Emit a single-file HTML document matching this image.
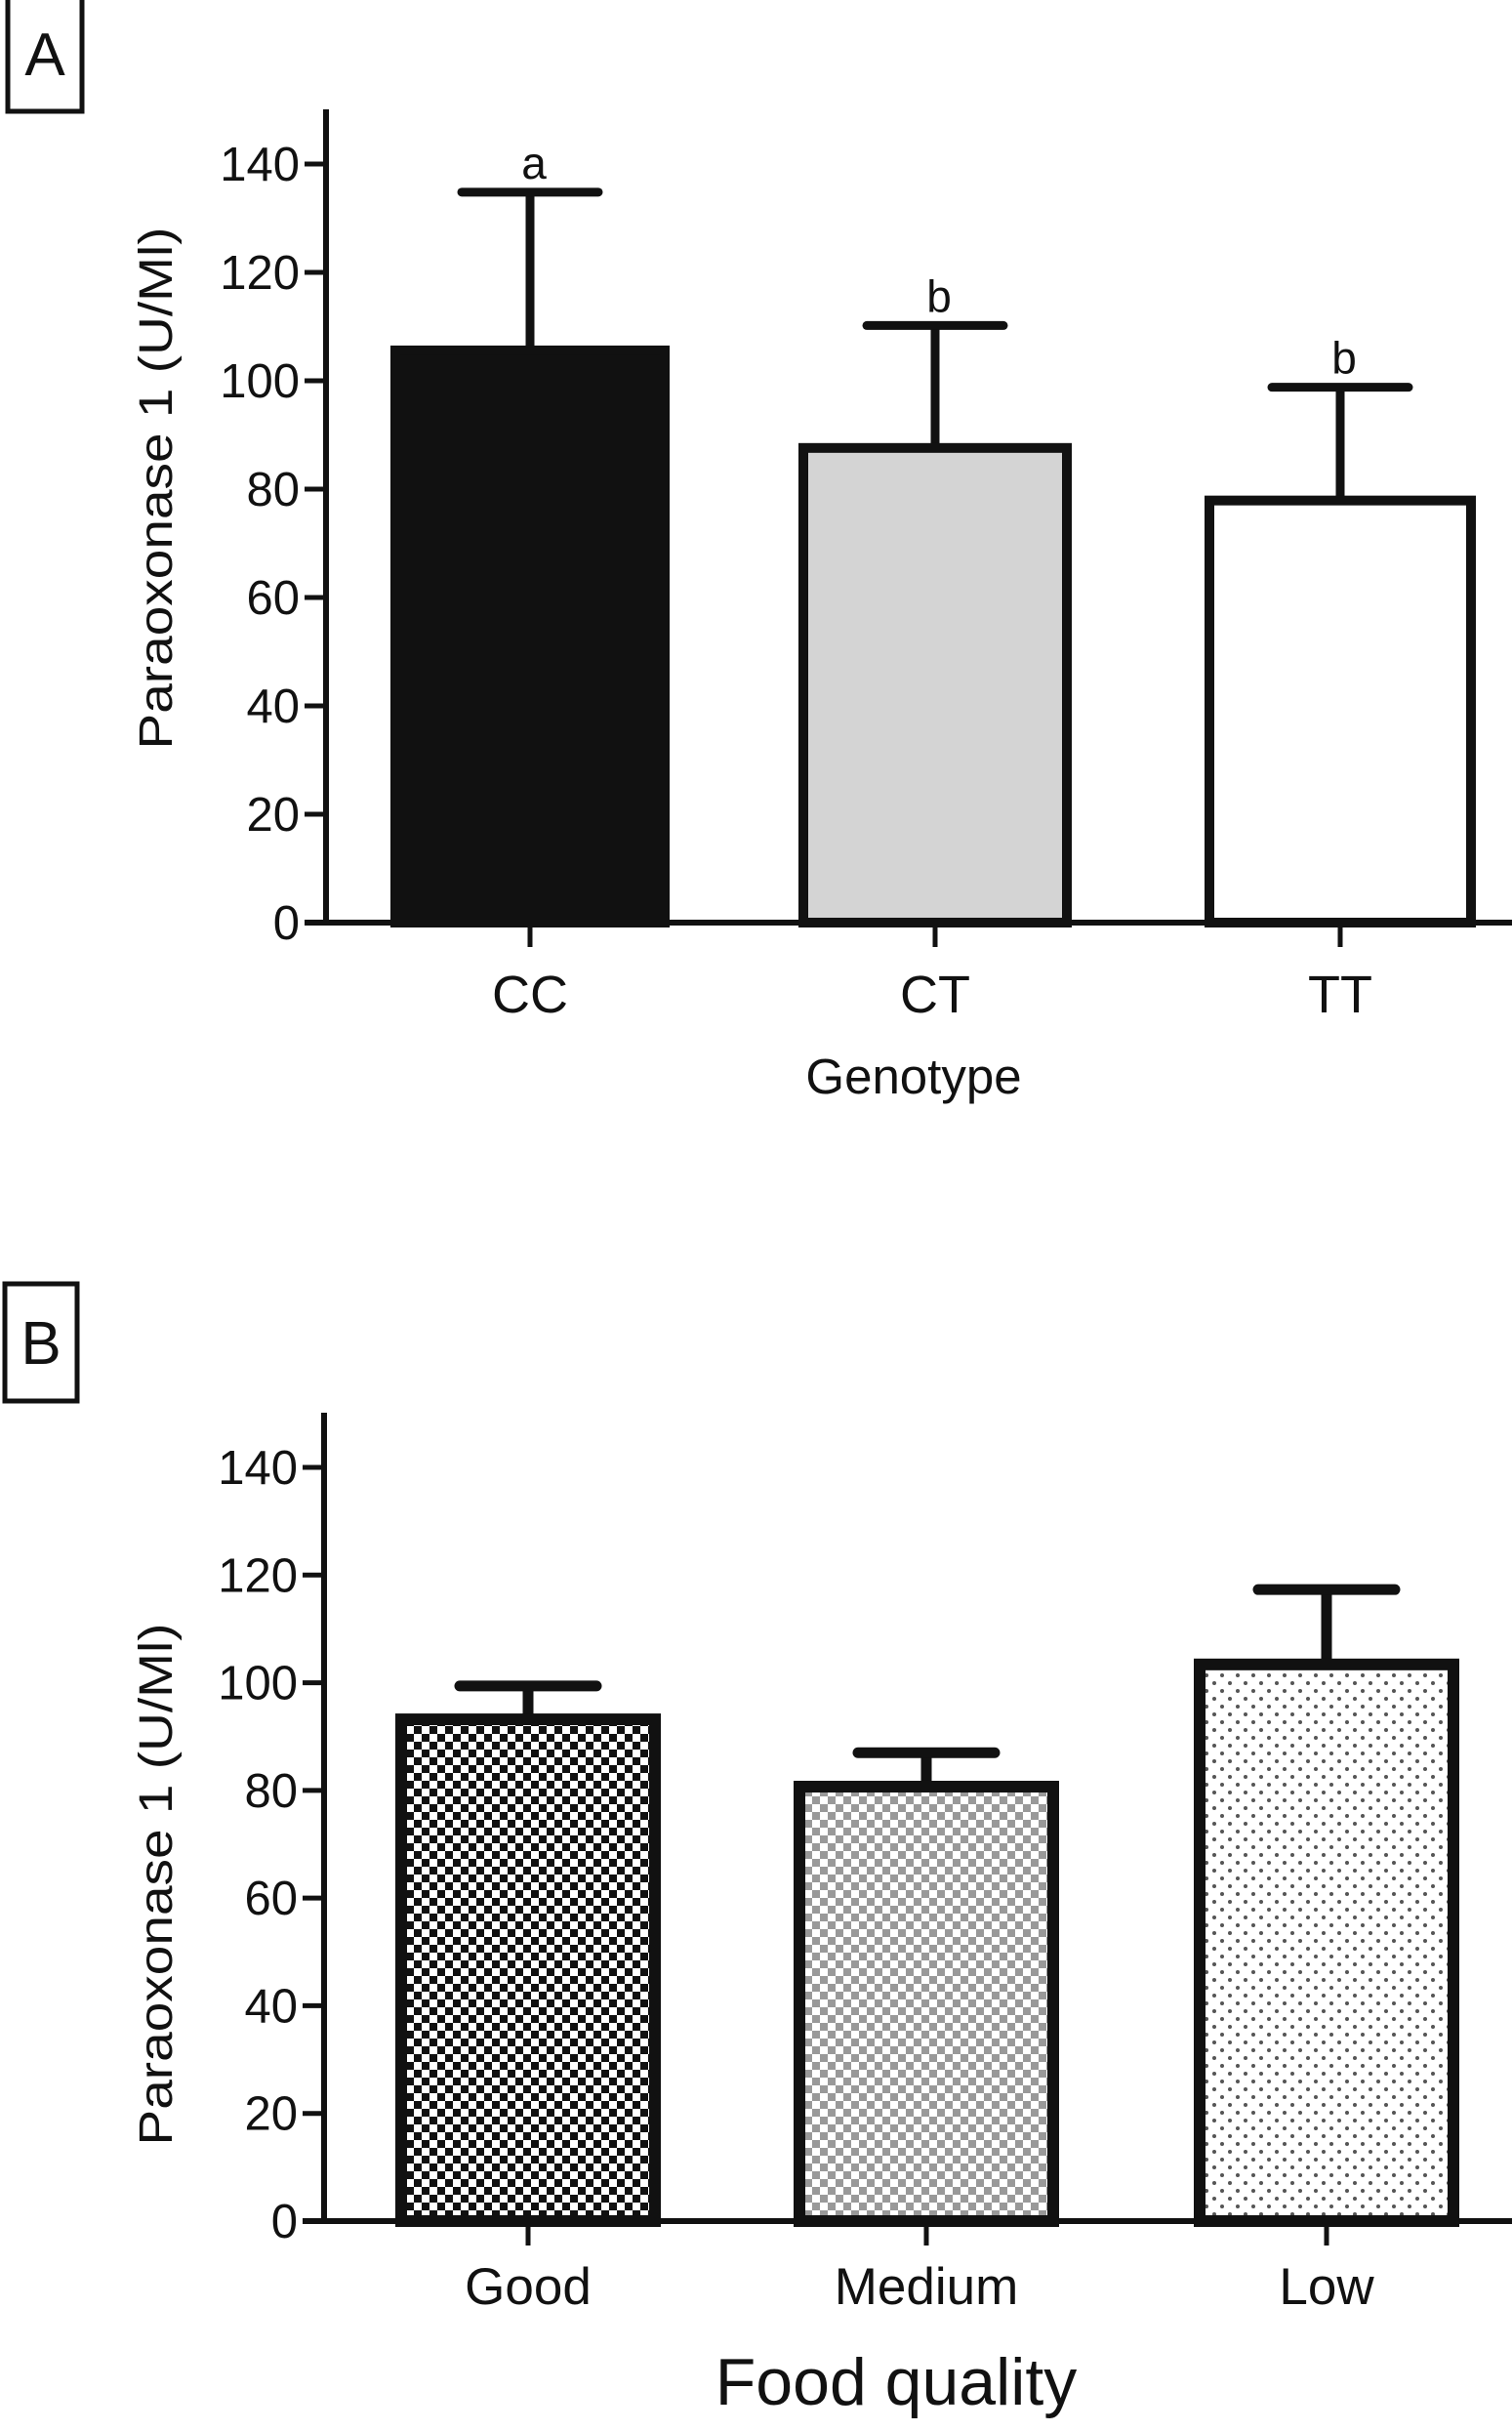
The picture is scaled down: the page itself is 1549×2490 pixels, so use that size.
<!DOCTYPE html>
<html><head><meta charset="utf-8"><style>
html,body{margin:0;padding:0;background:#fff;}
svg{display:block;}
text{font-family:"Liberation Sans",Arial,sans-serif;fill:#111;}
</style></head><body>
<svg id="fig" width="1549" height="2490" viewBox="0 0 1549 2490" xmlns="http://www.w3.org/2000/svg">
<defs>
<pattern id="pGood" width="16" height="16" patternUnits="userSpaceOnUse">
<rect width="16" height="16" fill="#fff"/><rect x="0" y="0" width="8" height="8" fill="#111"/><rect x="8" y="8" width="8" height="8" fill="#111"/>
</pattern>
<pattern id="pMed" width="16" height="16" patternUnits="userSpaceOnUse">
<rect width="16" height="16" fill="#fff"/><rect x="0" y="0" width="8" height="8" fill="#999"/><rect x="8" y="8" width="8" height="8" fill="#999"/>
</pattern>
<pattern id="pLow" width="16" height="16" patternUnits="userSpaceOnUse">
<rect width="16" height="16" fill="#fff"/><circle cx="4" cy="4" r="2" fill="#555"/><circle cx="12" cy="12" r="2" fill="#555"/>
</pattern>
</defs>
<g id="panelA"></g>
<g id="panelB"></g>
</svg>
<script>
const catsA = ["CC","CT","TT"];
const meansA = [105.6, 87.6, 77.9];
const errA = [134.8, 110.2, 98.8];
const sigA = ["a","b","b"];
const catsB = ["Good","Medium","Low"];
const meansB = [93.2, 80.7, 103.4];
const errB = [99.4, 87.0, 117.3];
const ticks = [0,20,40,60,80,100,120,140];

const NS="http://www.w3.org/2000/svg";
function mk(parent, tag, attrs, txt){
  const e=document.createElementNS(NS,tag);
  for(const k in attrs) e.setAttribute(k,attrs[k]);
  if(txt!==undefined) e.textContent=txt;
  parent.appendChild(e);
  return e;
}

function drawPanel(g, cfg){
  const y = v => cfg.y0 - v*(cfg.y0-cfg.y140)/140;
  const box = mk(g,'rect',{x:cfg.bx,y:cfg.by,width:cfg.bw,height:cfg.bh,fill:'none',stroke:'#111','stroke-width':5});
  
  
  const bl = mk(g,'text',{x:cfg.bx+cfg.bw/2,y:cfg.by+cfg.bh/2+22,'text-anchor':'middle','font-size':62},cfg.letter);
  
  
  cfg.cats.forEach((c,i)=>{
    const x0=cfg.bars[i][0], x1=cfg.bars[i][1], cx=(x0+x1)/2;
    const sw=cfg.sw;
    const eb = mk(g,'line',{x1:cx,y1:y(cfg.means[i]),x2:cx,y2:y(cfg.errs[i]),stroke:'#111','stroke-width':cfg.esw});
    
    
    const cap = mk(g,'line',{x1:cx-70,y1:y(cfg.errs[i]),x2:cx+70,y2:y(cfg.errs[i]),stroke:'#111','stroke-width':cfg.esw,'stroke-linecap':'round'});
    
    
    const r = mk(g,'rect',{x:x0+sw/2,y:y(cfg.means[i]),width:x1-x0-sw,height:y(0)-y(cfg.means[i]),fill:cfg.fills[i],stroke:'#111','stroke-width':sw});
    
    
    const tk = mk(g,'line',{x1:cx,y1:y(0),x2:cx,y2:y(0)+25,stroke:'#111','stroke-width':5});
    
    
    const lb = mk(g,'text',{x:cx,y:cfg.labY,'text-anchor':'middle','font-size':cfg.labSize},c);
    
    
    if(cfg.sig){
      const s = mk(g,'text',{x:cx+4,y:y(cfg.errs[i])-14,'text-anchor':'middle','font-size':46},cfg.sig[i]);
      
      
    }
  });
  const ya = mk(g,'line',{x1:cfg.ax,y1:cfg.axTop,x2:cfg.ax,y2:y(0)+2,stroke:'#111','stroke-width':6});
  
  
  const xa = mk(g,'line',{x1:cfg.ax-22,y1:y(0),x2:1549,y2:y(0),stroke:'#111','stroke-width':6});
  
  
  ticks.forEach(t=>{
    const l = mk(g,'line',{x1:cfg.ax-22,y1:y(t),x2:cfg.ax,y2:y(t),stroke:'#111','stroke-width':5});
    
    
    const tl = mk(g,'text',{x:cfg.ax-27,y:y(t)+17,'text-anchor':'end','font-size':49},String(t));
    
    
  });
  const yt = mk(g,'text',{x:0,y:0,'text-anchor':'middle','font-size':48,textLength:535,lengthAdjust:'spacingAndGlyphs',transform:`translate(${cfg.ytx},${cfg.yty}) rotate(-90)`},'Paraoxonase 1 (U/Ml)');
  
  
  const xt = mk(g,'text',{x:cfg.xtx,y:cfg.xty,'text-anchor':'middle','font-size':cfg.xtSize},cfg.xtitle);
  
  
}

drawPanel(document.getElementById('panelA'),{
  letter:'A',bx:8,by:-4,bw:76,bh:118,
  ax:334,axTop:112,y0:945,y140:168,
  cats:catsA,means:meansA,errs:errA,sig:sigA,
  bars:[[400,686],[818,1098],[1234,1512]],
  fills:['#111','#d4d4d4','#fff'],sw:10,esw:9,
  labY:1037,labSize:54,
  ytx:176,yty:500,xtx:936,xty:1120,xtitle:'Genotype',xtSize:51
});
drawPanel(document.getElementById('panelB'),{
  letter:'B',bx:5,by:1315,bw:74,bh:120,
  ax:332,axTop:1447,y0:2275,y140:1503,
  cats:catsB,means:meansB,errs:errB,sig:null,
  bars:[[405,677],[813,1085],[1223,1495]],
  fills:['url(#pGood)','url(#pMed)','url(#pLow)'],sw:12,esw:11,
  labY:2360,labSize:53,
  ytx:176,yty:1930,xtx:918,xty:2463,xtitle:'Food quality',xtSize:68
});
</script>
</body></html>
